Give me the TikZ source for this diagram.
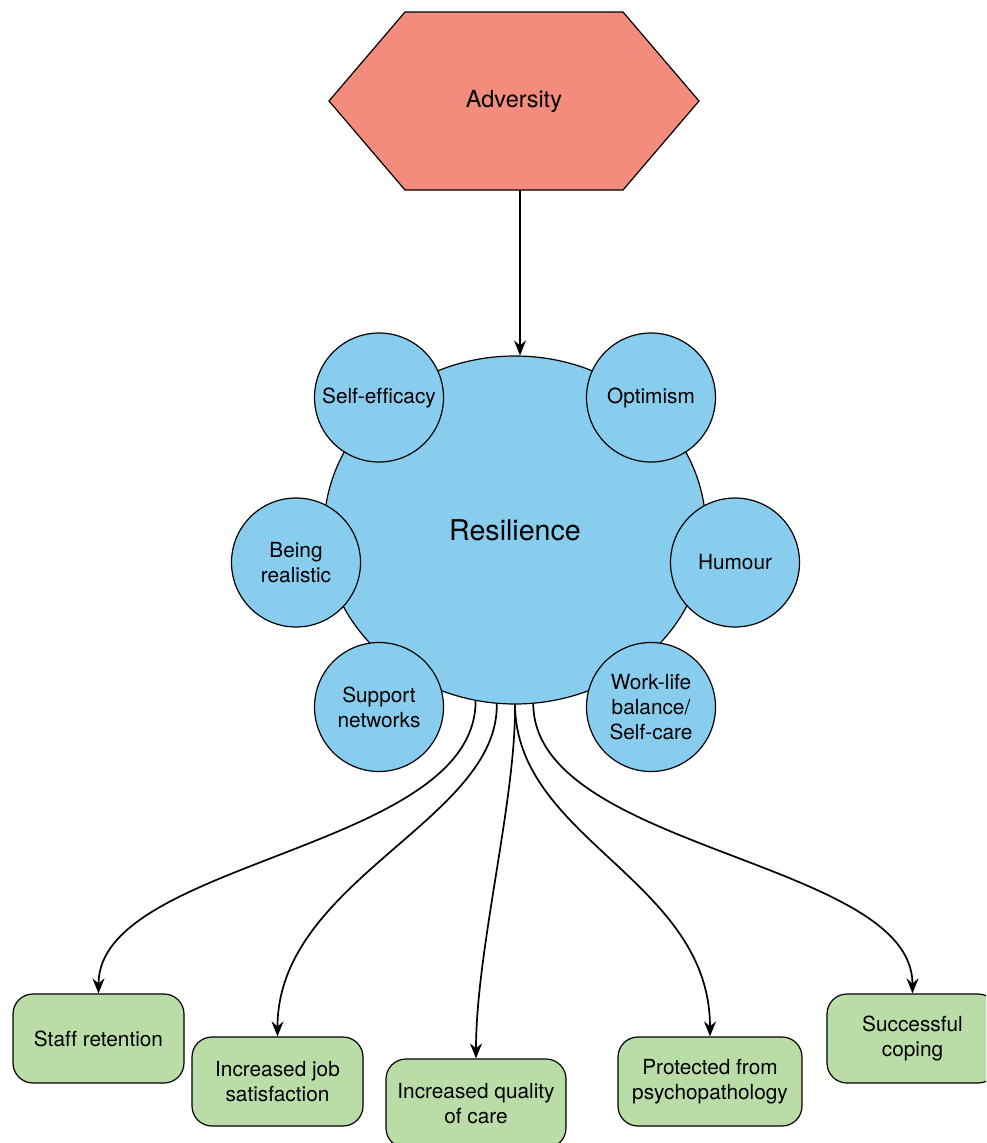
\documentclass[tikz,border=0pt]{standalone}
\usepackage{fontspec}
\setmainfont{TeX Gyre Heros}[Ligatures=NoCommon]
\usetikzlibrary{shapes.geometric,arrows.meta,backgrounds}
\definecolor{advred}{HTML}{F38C7C}
\definecolor{circblue}{HTML}{88CDEE}
\definecolor{boxgreen}{HTML}{BADDA8}
\tikzset{
  txt/.style={font=\fontsize{20.8}{25}\selectfont},
  sub/.style={circle, draw, fill=circblue, minimum size=129pt, inner sep=0pt, align=center, txt, line width=1.2pt},
  outb/.style={rectangle, rounded corners=20pt, draw, fill=boxgreen, minimum height=89pt, inner sep=0pt, align=center, txt, line width=1.2pt},
  arr/.style={-{Stealth[length=15pt,width=12pt,inset=5pt]}, line width=1.7pt},
}
\begin{document}
\begin{tikzpicture}[x=1pt,y=-1pt]
\clip (0,0) rectangle (986,1143);
% Adversity hexagon
\coordinate (h1) at (405,12);
\coordinate (h2) at (623,12);
\coordinate (h3) at (699,101);
\coordinate (h4) at (623,190);
\coordinate (h5) at (405,190);
\coordinate (h6) at (329,101);
\filldraw[fill=advred, draw=black, line width=1.2pt, line join=miter] (h1) -- (h2) -- (h3) -- (h4) -- (h5) -- (h6) -- cycle;
\node[font=\fontsize{23.5}{28}\selectfont] (adv) at (514,101) {Adversity};
\coordinate (advout) at (520,190);

% Resilience
\node[ellipse, draw, fill=circblue, minimum width=382pt, minimum height=348pt, inner sep=0pt, line width=1.2pt, font=\fontsize{28.6}{34}\selectfont] (res) at (515,530) {Resilience};

\draw[arr] (advout) -- (advout |- res.north);

% satellites
\node[sub] (se) at (379,397.5) {Self-efficacy};
\node[sub] (op) at (651,397.5) {Optimism};
\node[sub] (br) at (296,562.5) {Being\\realistic};
\node[sub] (hu) at (735,562.5) {Humour};
\node[sub] (sn) at (379,707) {Support\\networks};
\node[sub] (wl) at (651,707) {Work-life\\balance/\\Self-care};

% outcomes
\node[outb, minimum width=171pt] (st) at (98.5,1038.5) {Staff retention};
\node[outb, minimum width=171pt] (js) at (277.5,1081.5) {Increased job\\satisfaction};
\node[outb, minimum width=180pt] (qc) at (476,1103.5) {Increased quality\\of care};
\node[outb, minimum width=184pt] (pp) at (710,1081.5) {Protected from\\psychopathology};
\node[outb, minimum width=171pt] (sc) at (912.5,1038.5) {Successful\\coping};

% connectors
\draw[arr] (res.257.1) .. controls (476,850) and (98.5,860) .. (st.north);
\draw[arr] (res.264.7) .. controls (499,820) and (277.5,880) .. (js.north);
\draw[arr] (res.270.3) .. controls (516,800) and (476,950) .. (qc.north);
\draw[arr] (res.270.3) .. controls (516,840) and (710,880) .. (pp.north);
\draw[arr] (res.276.3) .. controls (534,850) and (912.5,860) .. (sc.north);
\end{tikzpicture}
\end{document}
